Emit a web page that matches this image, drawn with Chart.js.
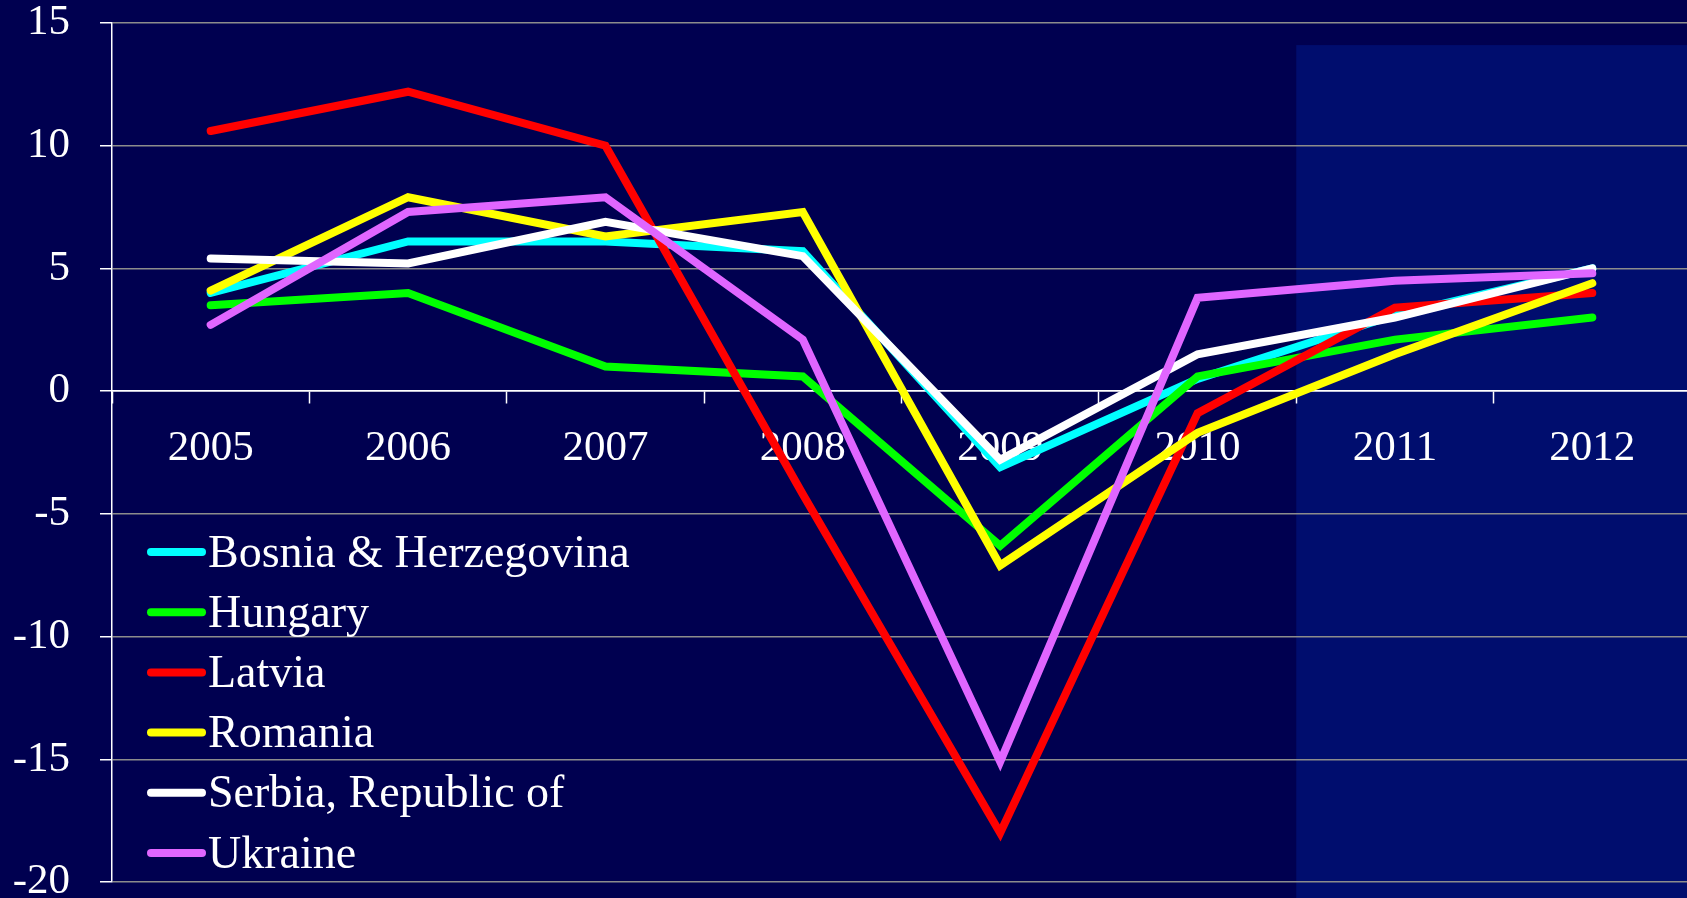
<!DOCTYPE html>
<html>
<head>
<meta charset="utf-8">
<script src="https://cdn.jsdelivr.net/npm/chart.js@4/dist/chart.umd.min.js"></script>
<style>
    html, body { margin: 0; padding: 0; background: #000050; overflow: hidden; }
    #wrap { position: relative; width: 1692px; height: 898px; }
</style>
</head>
<body>
<div id="wrap"><canvas id="myChart" width="1692" height="898"></canvas></div>
<script>
// GDP growth, percent
var years = ['2005', '2006', '2007', '2008', '2009', '2010', '2011', '2012'];
var bosnia  = [4.0, 6.1, 6.1, 5.7, -3.1, 0.5, 3.1, 5.0];
var hungary = [3.5, 4.0, 1.0, 0.6, -6.3, 0.6, 2.1, 3.0];
var latvia  = [10.6, 12.2, 10.0, -4.2, -18.0, -0.9, 3.4, 4.0];
var romania = [4.1, 7.9, 6.3, 7.3, -7.1, -1.7, 1.5, 4.4];
var serbia  = [5.4, 5.2, 6.9, 5.5, -2.8, 1.5, 3.0, 5.0];
var ukraine = [2.7, 7.3, 7.9, 2.1, -15.1, 3.8, 4.5, 4.8];
var seriesNames = ['Bosnia & Herzegovina', 'Hungary', 'Latvia', 'Romania', 'Serbia, Republic of', 'Ukraine'];
var yMin = -20, yMax = 15, yStep = 5;
var projectionFrom = '2011';

var fontFamily = '"Liberation Serif", "Times New Roman", serif';
var colors = ['#00FFFF', '#00FF00', '#FF0000', '#FFFF00', '#FFFFFF', '#E066FF'];
var values = [bosnia, hungary, latvia, romania, serbia, ukraine];

var datasets = values.map(function(v, i) {
    return {
        label: seriesNames[i],
        data: v,
        borderColor: colors[i],
        backgroundColor: colors[i],
        borderWidth: 8,
        borderCapStyle: 'round',
        borderJoinStyle: 'miter',
        pointRadius: 0,
        tension: 0,
        order: values.length - i   // later series drawn on top
    };
});

// shaded area for projection years
var shadePlugin = {
    id: 'shade',
    beforeDraw: function(chart) {
        var xs = chart.scales.x, ys = chart.scales.y, ctx = chart.ctx;
        var idx = years.indexOf(projectionFrom);
        var x0 = (xs.getPixelForValue(idx - 1) + xs.getPixelForValue(idx)) / 2;
        var y0 = ys.getPixelForValue(14.1);
        ctx.save();
        ctx.fillStyle = '#000D6E';
        ctx.fillRect(x0, y0, chart.width - x0, chart.height - y0);
        ctx.restore();
    }
};

// legend inside the plot, bottom left
var legendPlugin = {
    id: 'insideLegend',
    afterDraw: function(chart) {
        var ctx = chart.ctx, area = chart.chartArea;
        var n = chart.data.datasets.length;
        ctx.save();
        ctx.font = '46px ' + fontFamily;
        ctx.textBaseline = 'alphabetic';
        chart.data.datasets.forEach(function(ds, i) {
            var y = area.bottom - 29 - (n - 1 - i) * 60.2;
            ctx.strokeStyle = ds.borderColor;
            ctx.lineWidth = 8;
            ctx.lineCap = 'round';
            ctx.beginPath();
            ctx.moveTo(area.left + 39, y);
            ctx.lineTo(area.left + 90, y);
            ctx.stroke();
            ctx.fillStyle = '#FFFFFF';
            ctx.fillText(ds.label, area.left + 96, y + 14.5);
        });
        ctx.restore();
    }
};

var ctx = document.getElementById('myChart').getContext('2d');
var myChart = new Chart(ctx, {
    type: 'line',
    data: { labels: years, datasets: datasets },
    plugins: [shadePlugin, legendPlugin],
    options: {
        responsive: false,
        animation: false,
        devicePixelRatio: 1,
        layout: { padding: { left: 0, top: 23, right: 1, bottom: 16 } },
        plugins: { legend: { display: false }, tooltip: { enabled: false } },
        scales: {
            x: {
                position: { y: 0 },
                offset: true,
                grid: {
                    offset: true,
                    drawOnChartArea: false,
                    drawTicks: true,
                    tickLength: 12,
                    tickColor: '#FFFFFF',
                    tickWidth: 1.5
                },
                border: { display: true, color: '#FFFFFF', width: 1.5 },
                ticks: {
                    color: '#FFFFFF',
                    font: { family: fontFamily, size: 43, lineHeight: 1 },
                    padding: 24,
                    maxRotation: 0,
                    autoSkip: false
                }
            },
            y: {
                min: yMin,
                max: yMax,
                afterFit: function(scale) {
                    scale.width = 112;
                    // let the tick labels hang over the edges instead of shrinking the plot
                    scale.paddingTop = 0;
                    scale.paddingBottom = 0;
                },
                grid: {
                    color: function(c) { return c.tick && c.tick.value === 0 ? '#FFFFFF' : '#8C8C8C'; },
                    lineWidth: 1.5,
                    tickLength: 12,
                    tickColor: '#FFFFFF'
                },
                border: { display: true, color: '#FFFFFF', width: 1.5 },
                ticks: {
                    stepSize: yStep,
                    color: '#FFFFFF',
                    font: { family: fontFamily, size: 43, lineHeight: 0.7 },
                    padding: 30,
                    callback: function(v) { return String(v); }
                }
            }
        }
    }
});
</script>
</body>
</html>
